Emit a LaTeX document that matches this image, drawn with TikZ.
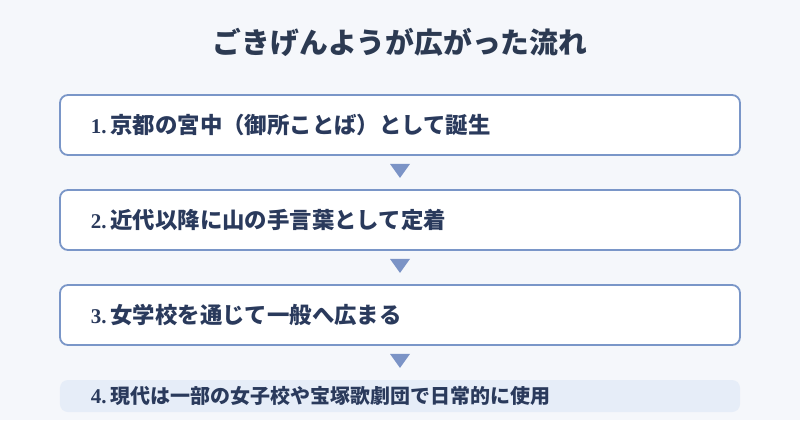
\documentclass[tikz,border=0pt]{standalone}
\usepackage{fontspec}
\setmainfont{Noto Sans CJK JP}
\newfontfamily\numf{Liberation Serif}
\usetikzlibrary{calc}
\definecolor{bgc}{HTML}{F5F7FB}
\definecolor{bordc}{HTML}{7A96C8}
\definecolor{arrc}{HTML}{7B93C6}
\definecolor{txtc}{HTML}{2A3A5C}
\definecolor{titlec}{HTML}{2C3A52}
\definecolor{lastc}{HTML}{E6EDF8}
\tikzset{
  stepbox/.style={draw=bordc, line width=1.8bp, fill=white, rounded corners=8bp,
    minimum width=680bp, minimum height=60bp, text width=618bp, inner xsep=31bp,
    align=left, text=txtc, font=\fontsize{22.4bp}{25bp}\selectfont\bfseries},
  lastbox/.style={fill=lastc, rounded corners=8bp,
    minimum width=680bp, minimum height=32bp, text width=618bp, inner xsep=31bp,
    align=left, text=txtc, font=\fontsize{20bp}{22bp}\selectfont\bfseries},
  tri/.style={fill=arrc}
}
\newcommand{\nm}[1]{{\numf\bfseries\fontsize{21bp}{22bp}\selectfont #1}\,}
\begin{document}
\begin{tikzpicture}[x=1bp,y=-1bp]
\fill[bgc] (0,0) rectangle (800,420);
\useasboundingbox (0,0) rectangle (800,420);
\node[text=titlec, font=\fontsize{28.8bp}{31bp}\selectfont\bfseries] (title) at (400,42) {ごきげんようが広がった流れ};
\node[stepbox] (b1) at (400,125) {\nm{1.}京都の宮中（御所ことば）として誕生};
\node[stepbox] (b2) at (400,220) {\nm{2.}近代以降に山の手言葉として定着};
\node[stepbox] (b3) at (400,315) {\nm{3.}女学校を通じて一般へ広まる};
\node[lastbox] (b4) at (400,396) {\nm{4.}現代は一部の女子校や宝塚歌劇団で日常的に使用};
\foreach \a/\b in {b1/b2,b2/b3,b3/b4}{
  \fill[tri] (\a.south) ++(-10,8) -- ++(20,0) -- ++(-10,14) -- cycle;
}
\end{tikzpicture}
\end{document}
